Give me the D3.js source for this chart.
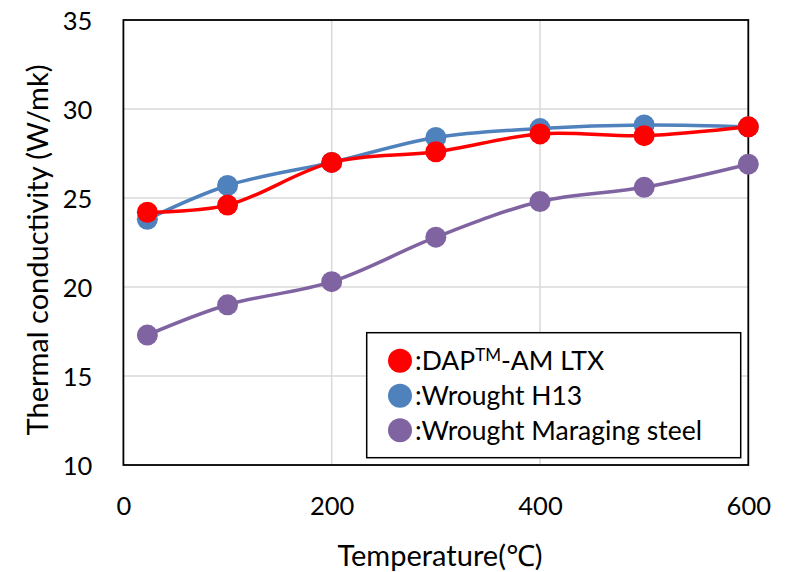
<!DOCTYPE html>
<html><head><meta charset="utf-8">
<script src="https://cdn.jsdelivr.net/npm/d3@7"></script>
<style>
html,body{margin:0;padding:0;background:#fff;}
svg text{font-family:Lato,"Noto Sans","Noto Sans CJK JP",sans-serif;fill:#000;}
</style></head>
<body><svg id="c" width="786" height="572"></svg>
<script>
const temps = [23, 100, 200, 300, 400, 500, 600];
const seriesNames = ["DAP", "Wrought H13", "Wrought Maraging steel"];
const dapLtx = [24.2, 24.6, 27.0, 27.6, 28.6, 28.5, 29.0];
const wroughtH13 = [23.8, 25.7, 27.0, 28.4, 28.9, 29.1, 29.0];
const wroughtMaraging = [17.3, 19.0, 20.3, 22.8, 24.8, 25.6, 26.9];
const seriesColors = ["#FF0000", "#4F81BD", "#8064A2"];
const xTicks = [0, 200, 400, 600];
const yTicks = [10, 15, 20, 25, 30, 35];

const svg = d3.select("#c");
const m = {l:123.4, r:748.3, t:20, b:465};
const x = d3.scaleLinear().domain([0,600]).range([m.l, m.r]);
const y = d3.scaleLinear().domain([10,35]).range([m.b, m.t]);

// gridlines
svg.append("g").selectAll("line").data(yTicks.filter(d=>d>10&&d<35)).join("line")
  .attr("x1",m.l).attr("x2",m.r).attr("y1",d=>y(d)).attr("y2",d=>y(d))
  .attr("stroke","#D9D9D9").attr("stroke-width",1.5);
svg.append("g").selectAll("line").data(xTicks.filter(d=>d>0&&d<600)).join("line")
  .attr("y1",m.t).attr("y2",m.b).attr("x1",d=>x(d)).attr("x2",d=>x(d))
  .attr("stroke","#D9D9D9").attr("stroke-width",1.5);

// frame
svg.append("rect").attr("x",m.l).attr("y",m.t).attr("width",m.r-m.l).attr("height",m.b-m.t)
  .attr("fill","none").attr("stroke","#000").attr("stroke-width",1.8);

// axes (labels only)
const xAxis = d3.axisBottom(x).tickValues(xTicks).tickSize(0).tickPadding(0);
const gx = svg.append("g").attr("transform",`translate(0,${m.b})`).call(xAxis);
gx.select(".domain").remove();
gx.selectAll("text").attr("font-size",25.5).attr("dy",null).attr("y",50).attr("font-family","Lato,sans-serif").attr("fill","#000");

const yAxis = d3.axisLeft(y).tickValues(yTicks).tickSize(0).tickPadding(0);
const gy = svg.append("g").attr("transform",`translate(${m.l},0)`).call(yAxis);
gy.select(".domain").remove();
gy.selectAll("text").attr("font-size",25.5).attr("x",-31).attr("dy","0.36em").attr("font-family","Lato,sans-serif").attr("fill","#000");

// lines
const data = [dapLtx, wroughtH13, wroughtMaraging];
const line = d3.line().x((d,i)=>x(temps[i])).y(d=>y(d)).curve(d3.curveCatmullRom.alpha(0.5));
const order = [2,1,0];
order.forEach(k=>{
  svg.append("path").attr("d",line(data[k])).attr("fill","none")
    .attr("stroke",seriesColors[k]).attr("stroke-width",3.5);
  svg.append("g").selectAll("circle").data(data[k]).join("circle")
    .attr("cx",(d,i)=>x(temps[i])).attr("cy",d=>y(d)).attr("r",10.5)
    .attr("fill",seriesColors[k]);
});

// titles
svg.append("text").attr("x",440).attr("y",566).attr("text-anchor","middle")
  .attr("font-size",29).text("Temperature(℃)");
svg.append("text").attr("transform","translate(48,250) rotate(-90)").attr("text-anchor","middle")
  .attr("font-size",29).text("Thermal conductivity (W/mk)");

// legend
const lg = svg.append("g");
lg.append("rect").attr("x",366.7).attr("y",332.7).attr("width",374).attr("height",125)
  .attr("fill","#fff").attr("stroke","#000").attr("stroke-width",1.5);
const ly = [360.7, 395.7, 430.3];
seriesNames.forEach((n,i)=>{
  lg.append("circle").attr("cx",400).attr("cy",ly[i]).attr("r",12).attr("fill",seriesColors[i]);
  const t = lg.append("text").attr("x",415).attr("y",ly[i]).attr("dy","0.36em").attr("font-size",26.5);
  if(i===0){
    t.append("tspan").text(":DAP");
    t.append("tspan").attr("font-size",17).attr("dy","-0.55em").text("TM");
    t.append("tspan").attr("dy","0.35em").text("-AM LTX");
  } else {
    t.text(":"+n);
  }
});
</script></body></html>
